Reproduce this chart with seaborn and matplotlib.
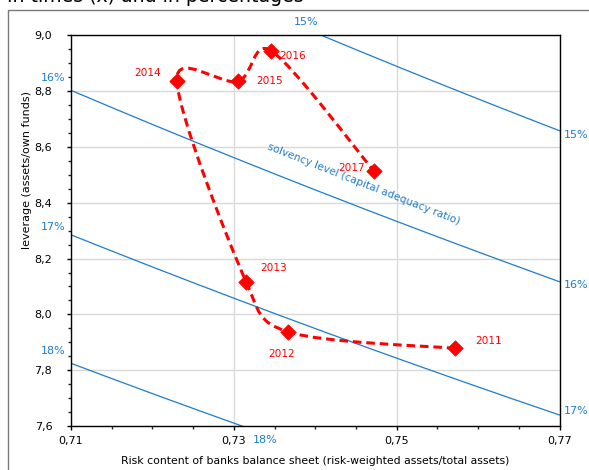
'''
Risk content of the banks balance sheet against leverage, 2011-2017,
with iso-solvency lines (capital adequacy ratio = 1 / (leverage * risk)).
'''

import numpy as np
import pandas as pd
import matplotlib
matplotlib.use("Agg")
import matplotlib.pyplot as plt
from matplotlib.path import Path
from matplotlib.patches import PathPatch, Rectangle
from matplotlib.ticker import MultipleLocator, FuncFormatter
import seaborn as sns

#######################################################
### Data

YEARS = ["2011", "2012", "2013", "2014", "2015", "2016", "2017"]

RISK = [0.7572, 0.7367, 0.7315, 0.7230, 0.7305, 0.7346, 0.7472]

LEVERAGE = [7.878, 7.937, 8.117, 8.838, 8.835, 8.944, 8.514]

SOLVENCY_LEVELS = [0.15, 0.16, 0.17, 0.18]

X_TICKS = [0.71, 0.73, 0.75, 0.77]

Y_TICKS = [7.6, 7.8, 8.0, 8.2, 8.4, 8.6, 8.8, 9.0]

TITLE = "In times (x) and in percentages"
X_LABEL = "Risk content of banks balance sheet (risk-weighted assets/total assets)"
Y_LABEL = "leverage (assets/own funds)"
SOLVENCY_TEXT = "solvency level (capital adequacy ratio)"

RED = "#ff0000"
BLUE = "#1f7ccc"

# year label offsets from each diamond, in points
LABEL_OFFSETS = {
    "2011": (24, 5),
    "2012": (-5, -16),
    "2013": (20, 10),
    "2014": (-21, 5.5),
    "2015": (23, 0),
    "2016": (15, -4),
    "2017": (-16, 2),
}

# iso-line labels: text, x, y (axes fraction), alignment
SOLVENCY_LABELS = [
    ("15%", 0.481, 1.035, "center"),
    ("15%", 1.009, 0.745, "left"),
    ("16%", 1.009, 0.361, "left"),
    ("17%", 1.009, 0.039, "left"),
    ("16%", -0.012, 0.891, "right"),
    ("17%", -0.012, 0.510, "right"),
    ("18%", -0.012, 0.193, "right"),
    ("18%", 0.397, -0.035, "center"),
]


#######################################################
### Smoothed path (Excel-like smoothed line, built in pixel space)

def smooth_path(ax, x, y):

    pts = ax.transData.transform(np.column_stack([x, y]))
    n = len(pts)

    verts = [pts[0]]
    codes = [Path.MOVETO]

    for i in range(n - 1):

        p0 = pts[max(i - 1, 0)]
        p1 = pts[i]
        p2 = pts[i + 1]
        p3 = pts[min(i + 2, n - 1)]

        d12 = np.linalg.norm(p2 - p1)
        d02 = np.linalg.norm(p2 - p0)
        d13 = np.linalg.norm(p3 - p1)

        f = 1 / 6
        g = 1 / 6

        # control arms never longer than half the segment
        if d02 / 6 >= d12 / 2:
            f = d12 / d02 / 2
        if d13 / 6 >= d12 / 2:
            g = d12 / d13 / 2

        verts += [p1 + (p2 - p0) * f, p2 - (p3 - p1) * g, p2]
        codes += [Path.CURVE4] * 3

    verts = ax.transData.inverted().transform(np.array(verts))

    return Path(verts, codes)


#######################################################
### Plot

def plot_chart():

    sns.set_theme(style="ticks")
    plt.rcParams["font.family"] = ["DejaVu Sans"]

    fig = plt.figure(figsize=(5.89, 4.70), dpi=100)
    ax = fig.add_axes([0.1205, 0.0936, 0.8295, 0.8313])

    ax.set_xlim(X_TICKS[0], X_TICKS[-1])
    ax.set_ylim(Y_TICKS[0], Y_TICKS[-1])

    # outer chart frame (only top and left edges visible)
    fig.patches.append(
        Rectangle(
            (7.5 / 589, -0.1), 1.2, 1.1 - 10 / 470,
            transform=fig.transFigure,
            fill=False, edgecolor="#7a7a7a", linewidth=1
        )
    )

    fig.text(
        7 / 589, 1 - 2 / 470, TITLE,
        fontsize=13.6, va="baseline", ha="left", color="black"
    )

    # iso-solvency lines
    r = np.linspace(X_TICKS[0], X_TICKS[-1], 200)
    iso = pd.concat([
        pd.DataFrame({"risk": r, "lev": 1 / (s * r), "level": s})
        for s in SOLVENCY_LEVELS
    ])

    sns.lineplot(
        data=iso, x="risk", y="lev", units="level", estimator=None,
        color=BLUE, linewidth=0.9, ax=ax, zorder=2
    )

    ax.set_xlim(X_TICKS[0], X_TICKS[-1])
    ax.set_ylim(Y_TICKS[0], Y_TICKS[-1])

    # smoothed dashed path through the years
    ax.add_patch(
        PathPatch(
            smooth_path(ax, RISK, LEVERAGE),
            fill=False, edgecolor=RED, linewidth=2.2,
            linestyle=(0, (2.8, 1.6)), zorder=3
        )
    )

    df = pd.DataFrame({"year": YEARS, "risk": RISK, "lev": LEVERAGE})

    sns.scatterplot(
        data=df, x="risk", y="lev", marker="D", s=62,
        color=RED, edgecolor=RED, linewidth=0.5, ax=ax, zorder=4
    )

    for _, row in df.iterrows():

        ax.annotate(
            row["year"], (row["risk"], row["lev"]),
            xytext=LABEL_OFFSETS[row["year"]], textcoords="offset points",
            ha="center", va="center", fontsize=7.6, color=RED, zorder=5
        )

    for text, x, y, ha in SOLVENCY_LABELS:

        ax.text(
            x, y, text, transform=ax.transAxes,
            ha=ha, va="center", fontsize=8, color=BLUE, clip_on=False
        )

    ax.text(
        0.600, 0.619, SOLVENCY_TEXT, transform=ax.transAxes,
        rotation=-21.5, rotation_mode="anchor",
        ha="center", va="center", fontsize=7.6, color=BLUE
    )

    # axes styling
    ax.set_xlim(X_TICKS[0], X_TICKS[-1])
    ax.set_ylim(Y_TICKS[0], Y_TICKS[-1])
    ax.set_xticks(X_TICKS)
    ax.set_yticks(Y_TICKS)
    ax.xaxis.set_minor_locator(MultipleLocator(0.005))
    ax.yaxis.set_minor_locator(MultipleLocator(0.05))

    ax.xaxis.set_major_formatter(
        FuncFormatter(lambda v, p: f"{v:.2f}".replace(".", ","))
    )
    ax.yaxis.set_major_formatter(
        FuncFormatter(lambda v, p: f"{v:.1f}".replace(".", ","))
    )

    ax.grid(True, which="major", color="#d9d9d9", linewidth=1)
    ax.set_axisbelow(True)

    for side in ["left", "right", "top", "bottom"]:
        ax.spines[side].set_visible(True)
        ax.spines[side].set_color("black")
        ax.spines[side].set_linewidth(1)

    ax.tick_params(
        which="major", direction="out", length=3, width=1,
        labelsize=8, color="black", labelcolor="black"
    )
    ax.tick_params(axis="x", which="major", pad=4.5)
    ax.tick_params(axis="y", which="major", pad=10.5)
    ax.tick_params(which="minor", direction="out", length=2.5, width=1)

    ax.set_xlabel(X_LABEL, fontsize=7.8, color="black")
    ax.set_ylabel(Y_LABEL, fontsize=8, color="black")
    ax.xaxis.set_label_coords(0.4995, -0.077)
    ax.yaxis.set_label_coords(-0.080, 0.654)

    fig.savefig("out.png", dpi=100)


#######################################################
### MAIN

if __name__ == "__main__":

    plot_chart()
